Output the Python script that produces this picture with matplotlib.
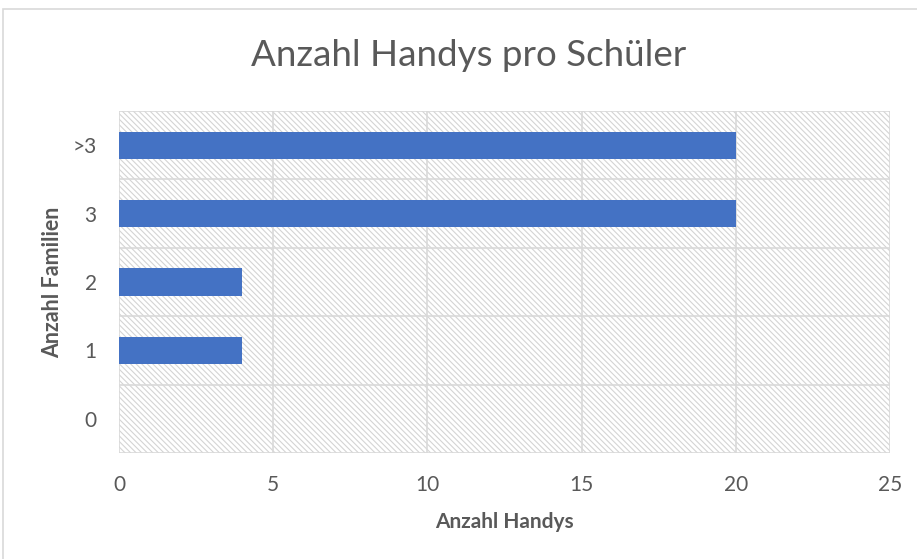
import matplotlib
matplotlib.use("Agg")
import matplotlib.pyplot as plt
from matplotlib.patches import Rectangle

categories = ["0", "1", "2", "3", ">3"]
values = [0, 4, 4, 20, 20]
x_ticks = [0, 5, 10, 15, 20, 25]

plt.rcParams['font.family'] = ['Lato', 'DejaVu Sans']
plt.rcParams['hatch.linewidth'] = 0.8
plt.rcParams['hatch.color'] = '#d4d4d4'

fig = plt.figure(figsize=(9.17, 5.59), dpi=100)
fig.patches.append(Rectangle((3/917, -0.1), 1.2, 1 - 9/559 + 0.1, transform=fig.transFigure,
                             facecolor='white', edgecolor='#d9d9d9', lw=1.2, zorder=-1))

ax = fig.add_axes([119/917, 1 - 453/559, (890 - 119)/917, (453 - 111)/559])
ax.patch.set_facecolor('white')
bg = Rectangle((0, 0), 1, 1, transform=ax.transAxes, facecolor='white',
               edgecolor='#d4d4d4', hatch='\\\\\\\\\\\\', lw=0, zorder=0)
ax.add_patch(bg)

ypos = list(range(len(categories)))
ax.barh(ypos, values, height=0.4, color='#4472C4', zorder=3)

ax.set_xlim(0, 25)
ax.set_ylim(-0.5, len(categories) - 0.5)
ax.set_xticks(x_ticks)
ax.set_yticks(ypos)
ax.set_yticklabels(categories)
ax.grid(False)
for xv in x_ticks:
    ax.axvline(xv, color='#d9d9d9', lw=1.2, zorder=1)
for yv in [i - 0.5 for i in range(len(categories) + 1)]:
    ax.axhline(yv, color='#d9d9d9', lw=1.2, zorder=1)
for s in ax.spines.values():
    s.set_visible(False)
ax.tick_params(axis='both', which='both', length=0, colors='#595959', labelsize=15)
ax.tick_params(axis='x', pad=16)
ax.tick_params(axis='y', pad=16)

ax.set_xlabel("Anzahl Handys", fontsize=15, fontweight='bold', color='#595959', labelpad=12)
ax.set_ylabel("Anzahl Familien", fontsize=15.5, fontweight='bold', color='#595959', labelpad=7)

fig.text(469/917, 1 - 55/559, "Anzahl Handys pro Schüler", fontsize=26.5, color='#595959',
         ha='center', va='center')

fig.savefig("out.png", dpi=100)
